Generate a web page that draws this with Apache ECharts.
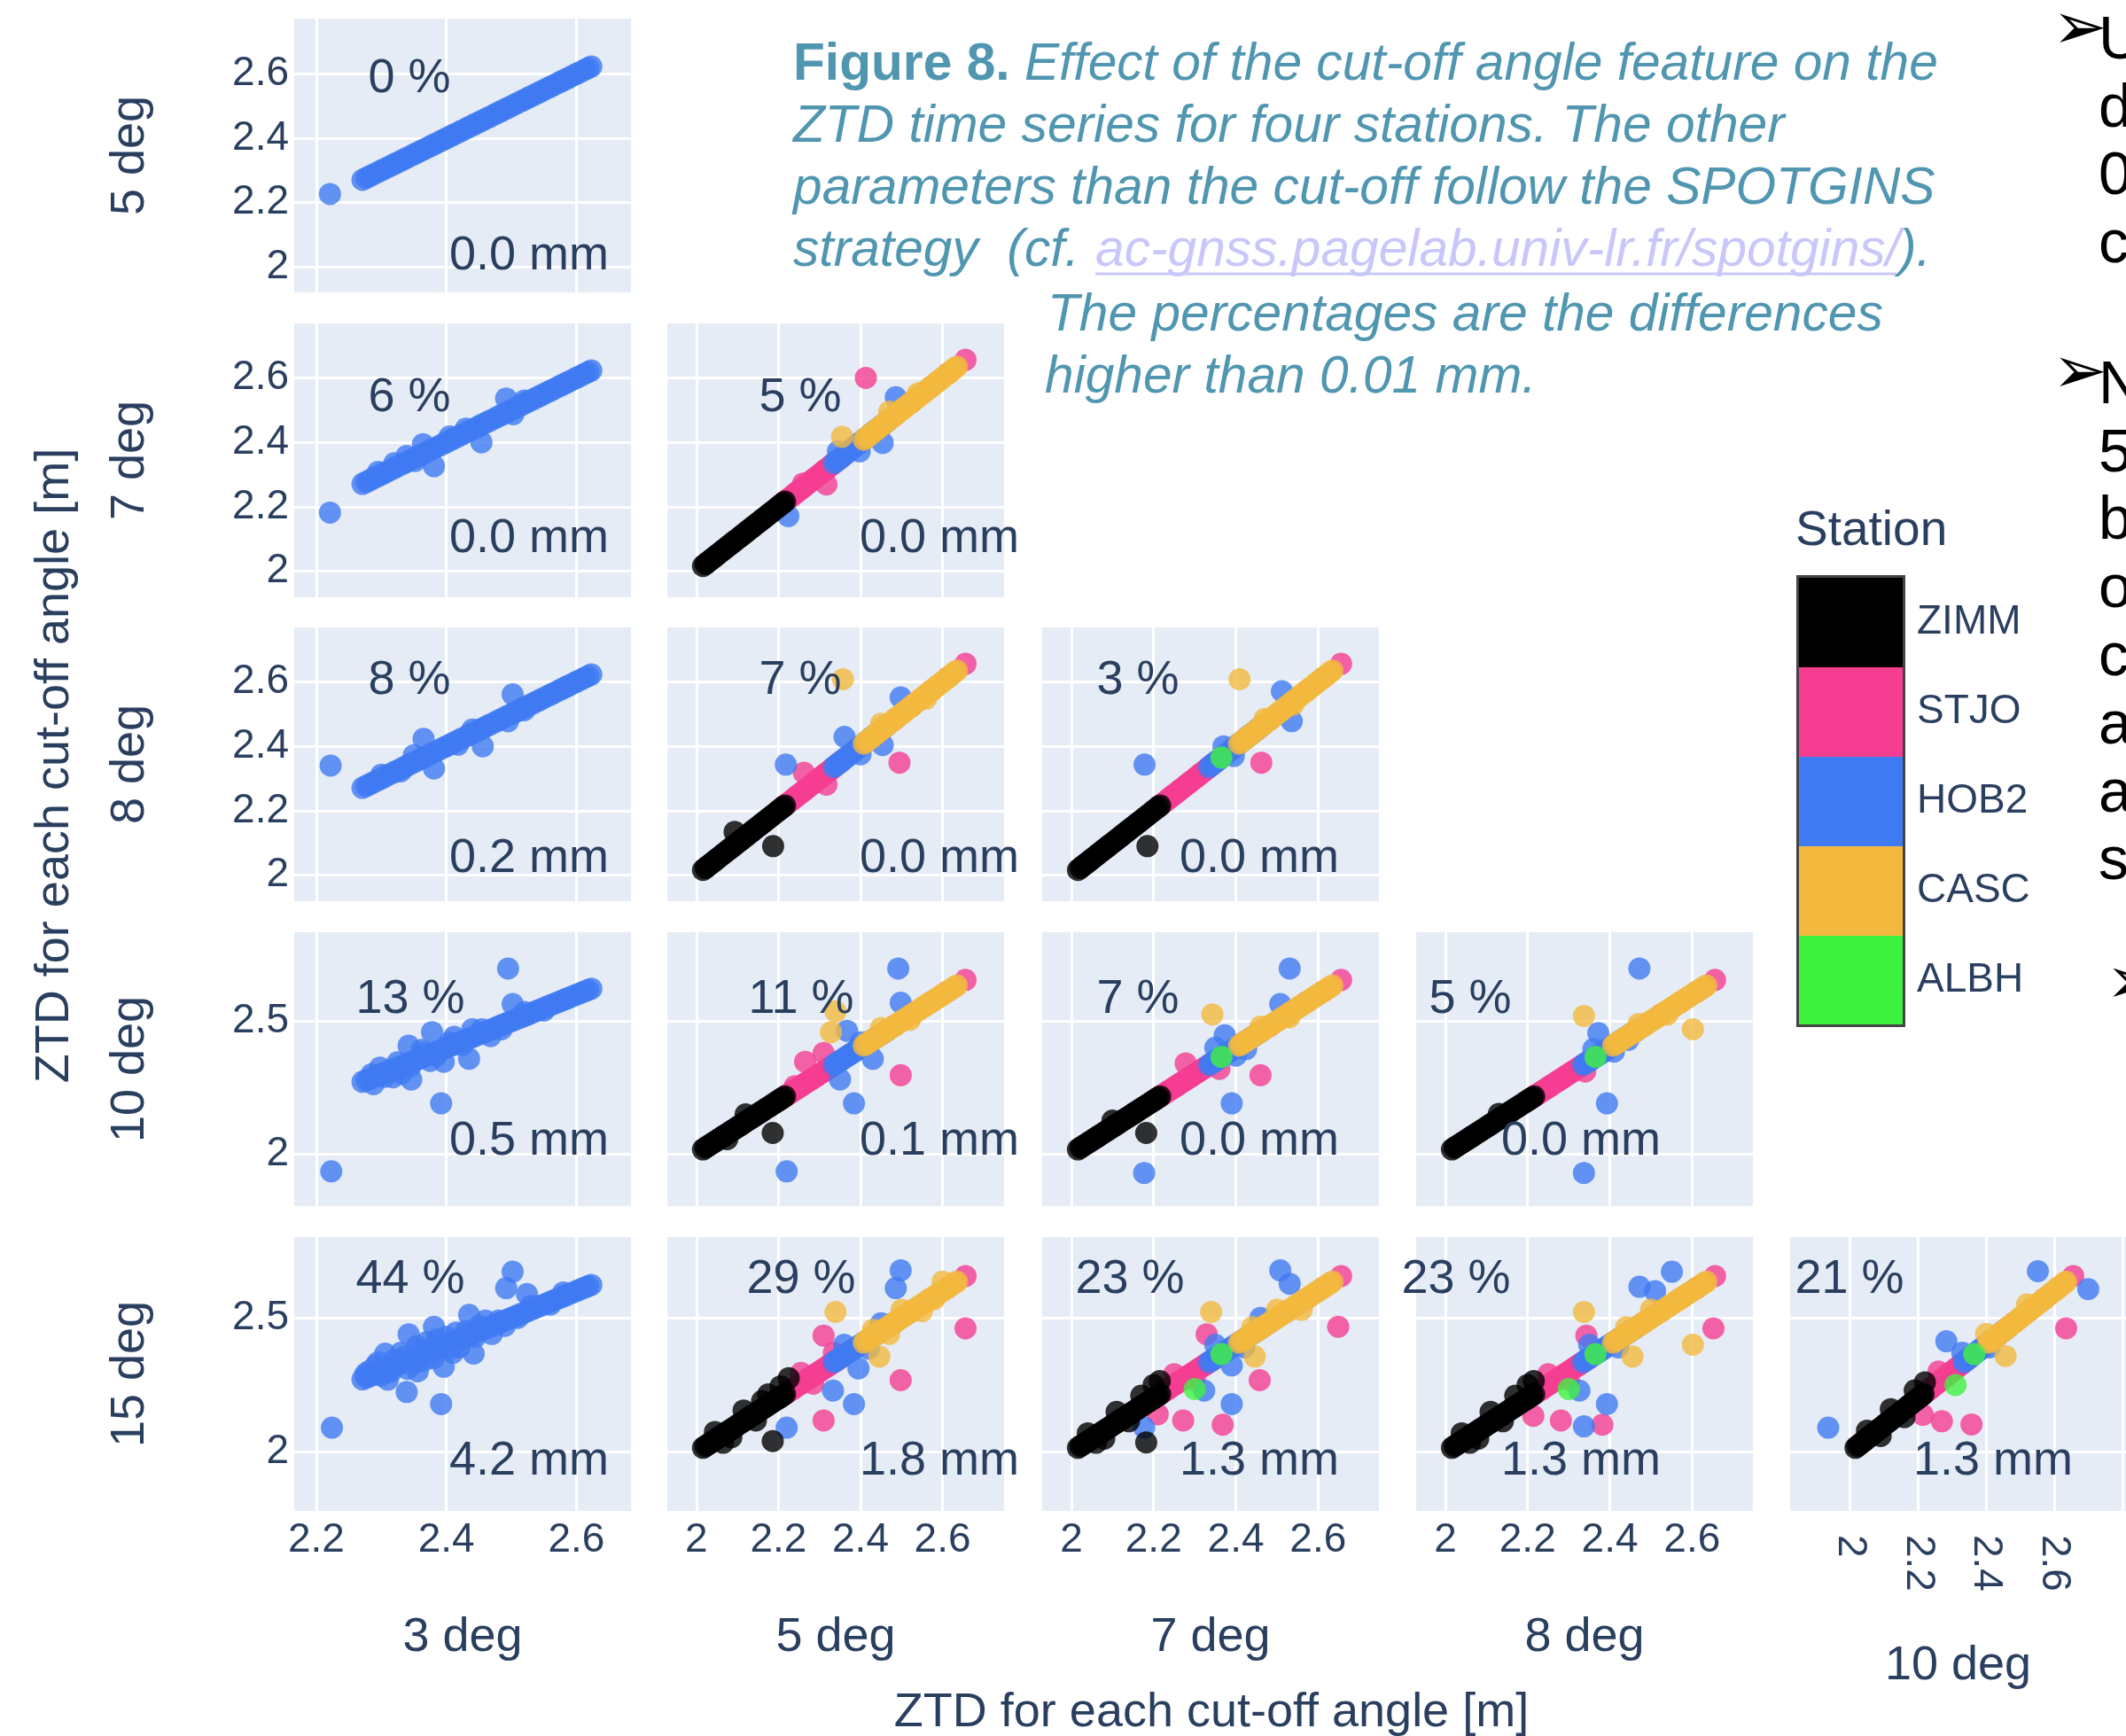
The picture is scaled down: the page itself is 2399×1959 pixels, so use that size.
<!DOCTYPE html>
<html>
<head>
<meta charset="utf-8">
<script src="https://cdn.jsdelivr.net/npm/echarts@6/dist/echarts.min.js"></script>
<style>
html,body{margin:0;padding:0;background:#fff;}
#chart{width:2399px;height:1959px;}
</style>
</head>
<body>
<div id="chart"></div>
<script>
// ===================== DATA =====================
const rowCutoffs = ['5 deg', '7 deg', '8 deg', '10 deg', '15 deg'];
const colCutoffs = ['3 deg', '5 deg', '7 deg', '8 deg', '10 deg'];
const stationNames = ['ZIMM', 'STJO', 'HOB2', 'CASC', 'ALBH'];
const stationColors = ['#000000', '#f53d92', '#407af2', '#f3b93e', '#40f240'];

const pctLabels = [
  ['0 %'],
  ['6 %', '5 %'],
  ['8 %', '7 %', '3 %'],
  ['13 %', '11 %', '7 %', '5 %'],
  ['44 %', '29 %', '23 %', '23 %', '21 %']
];
const mmLabels = [
  ['0.0 mm'],
  ['0.0 mm', '0.0 mm'],
  ['0.2 mm', '0.0 mm', '0.0 mm'],
  ['0.5 mm', '0.1 mm', '0.0 mm', '0.0 mm'],
  ['4.2 mm', '1.8 mm', '1.3 mm', '1.3 mm', '1.3 mm']
];

const xTicksCol0 = [2.2, 2.4, 2.6];
const xTicks = [2, 2.2, 2.4, 2.6];
const xGridLast = [2, 2.2, 2.4, 2.6, 2.8];
const yTicksHigh = [2, 2.2, 2.4, 2.6];
const yTicksLow = [2, 2.5];

// ZTD [m] of epochs where both cut-off angles agree (diagonal band)
const ztdHOB2_3deg = [2.271,2.277,2.282,2.288,2.295,2.301,2.306,2.313,2.319,2.324,2.331,2.337,2.342,2.349,2.355,2.361,2.366,2.373,2.379,2.384,2.391,2.397,2.402,2.409,2.415,2.421,2.426,2.433,2.439,2.444,2.451,2.457,2.463,2.468,2.475,2.481,2.486,2.493,2.499,2.505,2.511,2.517,2.523,2.528,2.535,2.541,2.546,2.553,2.559,2.565,2.571,2.577,2.583,2.588,2.595,2.601,2.607,2.613,2.618,2.623];
const ztdZIMM = [2.016,2.022,2.027,2.033,2.039,2.044,2.05,2.056,2.062,2.067,2.073,2.079,2.085,2.09,2.096,2.102,2.108,2.113,2.119,2.125,2.131,2.136,2.142,2.148,2.154,2.159,2.165,2.171,2.177,2.182,2.188,2.194,2.2,2.205,2.211,2.216];
const ztdSTJO = [2.208,2.214,2.22,2.226,2.232,2.238,2.244,2.25,2.256,2.262,2.268,2.274,2.28,2.286,2.292,2.298,2.304,2.31,2.316,2.322,2.328,2.334,2.34,2.346,2.352,2.482,2.526,2.571,2.613,2.656];
const ztdHOB2 = [2.335,2.341,2.347,2.353,2.359,2.365,2.371,2.377,2.383,2.389,2.395,2.401,2.407,2.413,2.419,2.425,2.431,2.437,2.443,2.449,2.455,2.461,2.467];
const ztdCASC = [2.408,2.414,2.42,2.426,2.432,2.438,2.444,2.45,2.456,2.462,2.468,2.474,2.48,2.486,2.492,2.498,2.504,2.51,2.516,2.522,2.528,2.534,2.54,2.546,2.552,2.558,2.564,2.57,2.576,2.582,2.588,2.594,2.6,2.606,2.612,2.618,2.624,2.63,2.635];
const ztdALBH = [2.365];

// Epochs that differ between the two cut-offs: [station, ZTD x-cutoff, ZTD y-cutoff]
const dev_5v3 = [['HOB2',2.221,2.227]];
const dev_7v3 = [['HOB2',2.221,2.182],['HOB2',2.492,2.536],['HOB2',2.454,2.400],['HOB2',2.381,2.326],['HOB2',2.364,2.394],['HOB2',2.503,2.487],['HOB2',2.339,2.358],['HOB2',2.320,2.335],['HOB2',2.405,2.418],['HOB2',2.295,2.308],['HOB2',2.352,2.342],['HOB2',2.430,2.442],['HOB2',2.520,2.530]];
const dev_8v3 = [['HOB2',2.222,2.340],['HOB2',2.365,2.423],['HOB2',2.381,2.331],['HOB2',2.456,2.400],['HOB2',2.502,2.561],['HOB2',2.495,2.478],['HOB2',2.350,2.372],['HOB2',2.418,2.405],['HOB2',2.300,2.312],['HOB2',2.330,2.322],['HOB2',2.440,2.452],['HOB2',2.520,2.512]];
const dev_10v3 = [['HOB2',2.495,2.699],['HOB2',2.392,2.190],['HOB2',2.223,1.933],['HOB2',2.502,2.565],['HOB2',2.378,2.459],['HOB2',2.342,2.408],['HOB2',2.346,2.280],['HOB2',2.435,2.358],['HOB2',2.396,2.347],['HOB2',2.298,2.325],['HOB2',2.318,2.288],['HOB2',2.412,2.441],['HOB2',2.468,2.444],['HOB2',2.288,2.262],['HOB2',2.362,2.392],['HOB2',2.331,2.302],['HOB2',2.440,2.470],['HOB2',2.375,2.350],['HOB2',2.285,2.300],['HOB2',2.305,2.290],['HOB2',2.325,2.345],['HOB2',2.345,2.330],['HOB2',2.365,2.380],['HOB2',2.385,2.370],['HOB2',2.405,2.420],['HOB2',2.425,2.410],['HOB2',2.455,2.470],['HOB2',2.485,2.470],['HOB2',2.520,2.535],['HOB2',2.550,2.540]];
const dev_15v3 = [['HOB2',2.502,2.672],['HOB2',2.492,2.611],['HOB2',2.224,2.091],['HOB2',2.339,2.224],['HOB2',2.392,2.179],['HOB2',2.342,2.439],['HOB2',2.381,2.467],['HOB2',2.435,2.511],['HOB2',2.524,2.589],['HOB2',2.396,2.318],['HOB2',2.306,2.367],['HOB2',2.356,2.301],['HOB2',2.442,2.367],['HOB2',2.290,2.320],['HOB2',2.310,2.270],['HOB2',2.330,2.370],['HOB2',2.350,2.330],['HOB2',2.370,2.410],['HOB2',2.380,2.350],['HOB2',2.400,2.430],['HOB2',2.420,2.390],['HOB2',2.450,2.470],['HOB2',2.470,2.440],['HOB2',2.320,2.345],['HOB2',2.360,2.380],['HOB2',2.410,2.370],['HOB2',2.280,2.300],['HOB2',2.300,2.285],['HOB2',2.340,2.310],['HOB2',2.390,2.400],['HOB2',2.430,2.450],['HOB2',2.480,2.490],['HOB2',2.510,2.500],['HOB2',2.275,2.290],['HOB2',2.295,2.335],['HOB2',2.315,2.300],['HOB2',2.335,2.355],['HOB2',2.355,2.395],['HOB2',2.365,2.340],['HOB2',2.385,2.420],['HOB2',2.405,2.385],['HOB2',2.415,2.445],['HOB2',2.445,2.430],['HOB2',2.460,2.490],['HOB2',2.490,2.470],['HOB2',2.530,2.545],['HOB2',2.560,2.550],['HOB2',2.580,2.595]];
const dev_7v5 = [['STJO',2.413,2.600],['HOB2',2.224,2.171],['HOB2',2.454,2.398],['HOB2',2.486,2.540],['CASC',2.355,2.417],['STJO',2.317,2.269],['HOB2',2.345,2.372],['HOB2',2.398,2.372],['CASC',2.470,2.495],['STJO',2.260,2.272],['CASC',2.540,2.552]];
const dev_8v5 = [['ZIMM',2.187,2.090],['ZIMM',2.093,2.134],['CASC',2.357,2.608],['HOB2',2.218,2.343],['STJO',2.495,2.349],['HOB2',2.498,2.552],['HOB2',2.454,2.404],['HOB2',2.361,2.429],['STJO',2.262,2.318],['STJO',2.317,2.281],['HOB2',2.400,2.375],['CASC',2.450,2.470],['CASC',2.560,2.548]];
const dev_8v7 = [['ZIMM',2.185,2.090],['HOB2',2.178,2.343],['HOB2',2.536,2.478],['HOB2',2.512,2.571],['STJO',2.462,2.349],['CASC',2.409,2.608],['HOB2',2.395,2.370],['HOB2',2.370,2.400],['CASC',2.470,2.485],['CASC',2.540,2.530]];
const dev_10v5 = [['ZIMM',2.186,2.078],['ZIMM',2.120,2.148],['ZIMM',2.075,2.055],['HOB2',2.492,2.699],['HOB2',2.384,2.190],['HOB2',2.220,1.933],['HOB2',2.498,2.570],['HOB2',2.350,2.280],['HOB2',2.430,2.358],['HOB2',2.367,2.464],['STJO',2.498,2.296],['STJO',2.265,2.347],['STJO',2.310,2.380],['CASC',2.339,2.537],['CASC',2.328,2.459],['CASC',2.450,2.475],['CASC',2.520,2.505],['STJO',2.240,2.255],['HOB2',2.400,2.420]];
const dev_10v7 = [['ZIMM',2.182,2.078],['ZIMM',2.100,2.125],['HOB2',2.531,2.699],['HOB2',2.390,2.190],['HOB2',2.177,1.927],['HOB2',2.508,2.565],['HOB2',2.373,2.447],['HOB2',2.350,2.400],['HOB2',2.400,2.370],['HOB2',2.425,2.395],['CASC',2.343,2.526],['STJO',2.460,2.296],['STJO',2.278,2.341],['STJO',2.360,2.320],['CASC',2.460,2.480],['CASC',2.530,2.515]];
const dev_10v8 = [['HOB2',2.472,2.699],['HOB2',2.393,2.190],['HOB2',2.337,1.927],['HOB2',2.372,2.455],['HOB2',2.360,2.395],['HOB2',2.410,2.385],['HOB2',2.445,2.430],['CASC',2.337,2.520],['CASC',2.602,2.470],['STJO',2.340,2.310],['ZIMM',2.130,2.150],['CASC',2.470,2.490],['CASC',2.540,2.525]];
const dev_15v5 = [['ZIMM',2.186,2.041],['ZIMM',2.045,2.075],['ZIMM',2.085,2.055],['ZIMM',2.115,2.155],['ZIMM',2.145,2.118],['ZIMM',2.175,2.215],['ZIMM',2.205,2.245],['ZIMM',2.225,2.275],['ZIMM',2.065,2.035],['ZIMM',2.160,2.190],['STJO',2.310,2.118],['STJO',2.498,2.268],['STJO',2.656,2.461],['STJO',2.310,2.434],['STJO',2.255,2.295],['STJO',2.285,2.255],['STJO',2.335,2.370],['HOB2',2.498,2.677],['HOB2',2.486,2.611],['HOB2',2.384,2.179],['HOB2',2.220,2.091],['HOB2',2.333,2.229],['HOB2',2.395,2.312],['HOB2',2.360,2.400],['HOB2',2.420,2.385],['HOB2',2.450,2.480],['CASC',2.339,2.522],['CASC',2.446,2.356],['CASC',2.500,2.530],['CASC',2.550,2.525],['CASC',2.600,2.635],['CASC',2.470,2.440],['CASC',2.430,2.455],['CASC',2.580,2.570]];
const dev_15v7 = [['ZIMM',2.182,2.036],['ZIMM',2.040,2.070],['ZIMM',2.080,2.050],['ZIMM',2.110,2.150],['ZIMM',2.140,2.115],['ZIMM',2.170,2.210],['ZIMM',2.200,2.250],['ZIMM',2.060,2.035],['ZIMM',2.215,2.265],['STJO',2.649,2.467],['STJO',2.458,2.268],['STJO',2.272,2.118],['STJO',2.368,2.102],['STJO',2.210,2.141],['STJO',2.329,2.439],['STJO',2.250,2.290],['STJO',2.300,2.270],['HOB2',2.508,2.677],['HOB2',2.531,2.627],['HOB2',2.390,2.179],['HOB2',2.177,2.091],['HOB2',2.323,2.229],['HOB2',2.390,2.323],['HOB2',2.350,2.400],['HOB2',2.420,2.390],['HOB2',2.460,2.500],['CASC',2.340,2.522],['CASC',2.446,2.356],['CASC',2.500,2.530],['CASC',2.560,2.530],['CASC',2.440,2.465],['ALBH',2.300,2.235]];
const dev_15v8 = [['ZIMM',2.040,2.070],['ZIMM',2.080,2.050],['ZIMM',2.110,2.150],['ZIMM',2.140,2.115],['ZIMM',2.170,2.210],['ZIMM',2.200,2.250],['ZIMM',2.060,2.035],['ZIMM',2.215,2.265],['STJO',2.652,2.461],['STJO',2.382,2.102],['STJO',2.281,2.118],['STJO',2.214,2.135],['STJO',2.343,2.434],['STJO',2.250,2.290],['STJO',2.300,2.270],['HOB2',2.551,2.672],['HOB2',2.472,2.616],['HOB2',2.393,2.179],['HOB2',2.337,2.096],['HOB2',2.326,2.229],['HOB2',2.510,2.600],['HOB2',2.350,2.400],['HOB2',2.420,2.390],['CASC',2.337,2.522],['CASC',2.602,2.400],['CASC',2.455,2.356],['CASC',2.500,2.530],['CASC',2.440,2.465],['ALBH',2.300,2.235]];
const dev_15v10 = [['HOB2',1.936,2.091],['HOB2',2.700,2.607],['HOB2',2.552,2.674],['HOB2',2.283,2.413],['HOB2',2.330,2.370],['HOB2',2.410,2.390],['STJO',2.635,2.461],['STJO',2.270,2.115],['STJO',2.357,2.103],['STJO',2.214,2.139],['STJO',2.260,2.300],['CASC',2.457,2.358],['CASC',2.400,2.440],['CASC',2.520,2.550],['ZIMM',2.050,2.080],['ZIMM',2.090,2.060],['ZIMM',2.120,2.160],['ZIMM',2.160,2.130],['ZIMM',2.190,2.230],['ZIMM',2.220,2.260],['ALBH',2.310,2.250]];

// ===================== LAYOUT =====================
const FONT = "'Liberation Sans', Arial, Helvetica, sans-serif";
const INK = '#2a3f5f';
const CAPTION = '#5096b0';
const panelLeft = [332, 753, 1176, 1598, 2020];
const panelTop = [21, 365, 708, 1052, 1396];
const panelW = 380, panelH = 309;
const xRange = [[2.166, 2.684], [1.929, 2.750], [1.929, 2.748], [1.929, 2.748], [1.824, 2.811]];
const yRange = [[1.921, 2.772], [1.919, 2.769], [1.919, 2.769], [1.802, 2.836], [1.781, 2.801]];
const pctCenterX = [[462], [462, 903], [462, 903, 1284], [463, 904, 1284, 1659], [463, 904, 1275, 1643, 2087]];
const pctCenterY = [89, 449, 768, 1128, 1444];
const mmCenterX = [597, 1060, 1421, 1784, 2249];
const mmCenterY = [289, 608, 969, 1288, 1649];

const panelDev = [
  [dev_5v3],
  [dev_7v3, dev_7v5],
  [dev_8v3, dev_8v5, dev_8v7],
  [dev_10v3, dev_10v5, dev_10v7, dev_10v8],
  [dev_15v3, dev_15v5, dev_15v7, dev_15v8, dev_15v10]
];
const bandByStation = {ZIMM: ztdZIMM, STJO: ztdSTJO, HOB2: ztdHOB2, CASC: ztdCASC, ALBH: ztdALBH};
const drawOrder = ['STJO', 'HOB2', 'CASC', 'ZIMM', 'ALBH'];

const grids = [], xAxes = [], yAxes = [], series = [], graphics = [];
let gi = 0;
for (let r = 0; r < 5; r++) {
  for (let c = 0; c <= r; c++) {
    grids.push({left: panelLeft[c], top: panelTop[r], width: panelW, height: panelH,
      show: true, backgroundColor: '#e5ecf6', borderWidth: 0});
    const bottom = (r === 4), first = (c === 0);
    const xt = c === 0 ? xTicksCol0 : xTicks;
    const yt = r < 3 ? yTicksHigh : yTicksLow;
    xAxes.push({
      gridIndex: gi, type: 'value', min: xRange[c][0], max: xRange[c][1],
      axisLine: {show: false}, axisTick: {show: false}, splitLine: {show: false},
      axisLabel: bottom ? {show: true, customValues: xt, fontSize: 46, color: INK, fontFamily: FONT,
        margin: c === 4 ? 27 : 10, rotate: c === 4 ? -90 : 0} : {show: false},
      name: bottom ? colCutoffs[c] : '', nameLocation: 'middle', nameGap: c === 4 ? 148 : 116,
      nameTextStyle: {fontSize: 54, color: INK, fontFamily: FONT}
    });
    yAxes.push({
      gridIndex: gi, type: 'value', min: yRange[r][0], max: yRange[r][1],
      axisLine: {show: false}, axisTick: {show: false}, splitLine: {show: false},
      axisLabel: first ? {show: true, customValues: yt, fontSize: 46, color: INK, fontFamily: FONT, margin: 6} : {show: false},
      name: first ? rowCutoffs[r] : '', nameLocation: 'middle', nameRotate: 90, nameGap: 158,
      nameTextStyle: {fontSize: 54, color: INK, fontFamily: FONT}
    });
    const xg = c === 4 ? xGridLast : xt;
    series.push({
      type: 'scatter', xAxisIndex: gi, yAxisIndex: gi, data: [], silent: true, z: 1,
      markLine: {silent: true, z: 1, symbol: ['none', 'none'], label: {show: false},
        lineStyle: {color: '#ffffff', width: 3, type: 'solid', opacity: 1},
        emphasis: {disabled: true}, animation: false,
        data: xg.map(v => ({xAxis: v})).concat(yt.map(v => ({yAxis: v})))}
    });
    const dev = panelDev[r][c];
    const present = c === 0 ? ['HOB2'] : (c >= 2 ? drawOrder : drawOrder.filter(s => s !== 'ALBH'));
    present.forEach(s => {
      const band = c === 0 ? ztdHOB2_3deg : bandByStation[s];
      const data = band.map(v => [v, v]).concat(dev.filter(d => d[0] === s).map(d => [d[1], d[2]]));
      series.push({
        name: s, type: 'scatter', xAxisIndex: gi, yAxisIndex: gi, data: data, z: 2,
        symbol: 'circle', symbolSize: 25, silent: true,
        itemStyle: {color: stationColors[stationNames.indexOf(s)], opacity: 0.8},
        emphasis: {disabled: true}
      });
    });
    graphics.push({type: 'text', x: pctCenterX[r][c], y: pctCenterY[r], z: 50,
      style: {text: pctLabels[r][c], fill: INK, fontSize: 54, fontFamily: FONT, align: 'center', verticalAlign: 'middle'}});
    graphics.push({type: 'text', x: mmCenterX[c], y: mmCenterY[r], z: 50,
      style: {text: mmLabels[r][c], fill: INK, fontSize: 54, fontFamily: FONT, align: 'center', verticalAlign: 'middle'}});
    gi++;
  }
}

// axis super-titles
graphics.push({type: 'text', x: 62, y: 864, rotation: Math.PI / 2,
  style: {text: 'ZTD for each cut-off angle [m]', fill: INK, fontSize: 54, fontFamily: FONT, align: 'center', verticalAlign: 'middle'}});
graphics.push({type: 'text', x: 1367, y: 1933,
  style: {text: 'ZTD for each cut-off angle [m]', fill: INK, fontSize: 54, fontFamily: FONT, align: 'center', verticalAlign: 'middle'}});

// legend title + frame
graphics.push({type: 'text', x: 2026, y: 600,
  style: {text: 'Station', fill: INK, fontSize: 55, fontFamily: FONT, align: 'left', verticalAlign: 'middle'}});
graphics.push({type: 'rect', z: 100, shape: {x: 2028.5, y: 650.5, width: 120, height: 507},
  style: {fill: 'none', stroke: '#444444', lineWidth: 3}});

// caption
const CAPSIZE = 58.7;
const capStyle = {fill: CAPTION, fontSize: CAPSIZE, fontFamily: FONT, fontStyle: 'italic', align: 'left', verticalAlign: 'middle'};
graphics.push({type: 'text', x: 895, y: 74, style: {
  text: '{b|Figure 8.} {i|Effect of the cut-off angle feature on the}', fontSize: CAPSIZE, fontFamily: FONT, align: 'left', verticalAlign: 'middle',
  rich: {b: {fill: CAPTION, fontSize: CAPSIZE, fontFamily: FONT, fontWeight: 'bold'}, i: {fill: CAPTION, fontSize: CAPSIZE, fontFamily: FONT, fontStyle: 'italic'}}}});
graphics.push({type: 'text', x: 895, y: 144, style: Object.assign({}, capStyle, {text: 'ZTD time series for four stations. The other'})});
graphics.push({type: 'text', x: 895, y: 214, style: Object.assign({}, capStyle, {text: 'parameters than the cut-off follow the SPOTGINS'})});
graphics.push({type: 'text', x: 895, y: 284, style: Object.assign({}, capStyle, {text: 'strategy  (cf. '})});
graphics.push({type: 'text', x: 1236, y: 284, style: Object.assign({}, capStyle, {text: 'ac-gnss.pagelab.univ-lr.fr/spotgins/', fill: '#c9c6fa'})});
graphics.push({type: 'line', shape: {x1: 1236, y1: 309, x2: 2140, y2: 309}, style: {stroke: '#c9c6fa', lineWidth: 3}});
graphics.push({type: 'text', x: 2143, y: 284, style: Object.assign({}, capStyle, {text: ').'})});
graphics.push({type: 'text', x: 1182, y: 357, style: Object.assign({}, capStyle, {text: 'The percentages are the differences'})});
graphics.push({type: 'text', x: 1179, y: 427, style: Object.assign({}, capStyle, {text: 'higher than 0.01 mm.'})});

// clipped slide text on the right edge
const sideLetters = [['U', 47], ['d', 124], ['0', 200], ['c', 277], ['N', 436], ['5', 513], ['b', 589], ['o', 666], ['c', 743], ['a', 820], ['a', 897], ['s', 973]];
sideLetters.forEach(l => graphics.push({type: 'text', x: 2368, y: l[1],
  style: {text: l[0], fill: '#000000', fontSize: 68, fontFamily: FONT, align: 'left', verticalAlign: 'middle'}}));
[[2316, 36], [2316, 424], [2376, 1113]].forEach(p => graphics.push({type: 'text', x: p[0], y: p[1],
  style: {text: '\u27A2', fill: '#000000', fontSize: 74, fontFamily: "'DejaVu Sans', sans-serif", align: 'left', verticalAlign: 'middle'}}));

const chart = echarts.init(document.getElementById('chart'), null, {renderer: 'canvas'});
chart.setOption({
  animation: false,
  backgroundColor: '#ffffff',
  textStyle: {fontFamily: FONT},
  grid: grids,
  xAxis: xAxes,
  yAxis: yAxes,
  legend: {
    data: stationNames.map(n => ({name: n, icon: 'rect'})),
    orient: 'vertical', left: 2030, top: 652, itemWidth: 117, itemHeight: 101, itemGap: 0, padding: 0,
    selectedMode: false, itemStyle: {opacity: 1, borderWidth: 0},
    textStyle: {fontSize: 46, color: INK, fontFamily: FONT, padding: [0, 0, 0, 11]}
  },
  series: series,
  graphic: graphics
});
</script>
</body>
</html>
